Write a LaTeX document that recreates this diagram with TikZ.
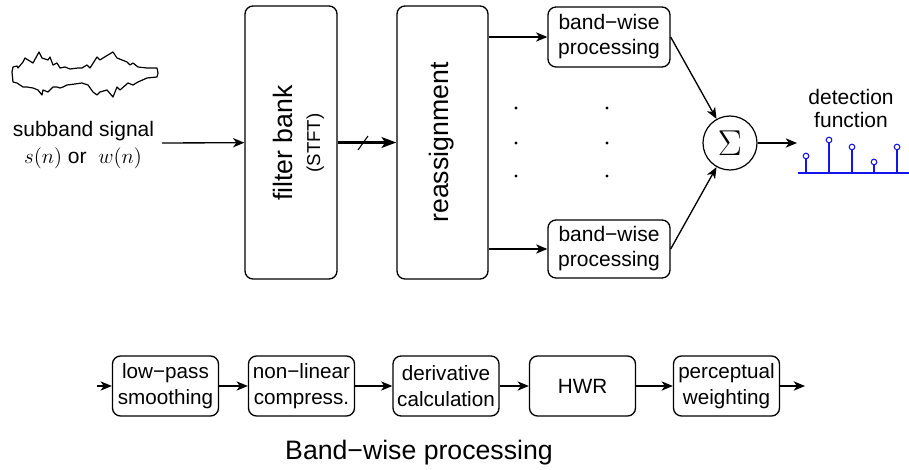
\RequirePackage{fix-cm}
\documentclass[tikz,border=0pt]{standalone}
\usepackage{fontspec}
\setmainfont{Liberation Sans}
\usetikzlibrary{arrows.meta}
\definecolor{stemblue}{RGB}{20,20,235}
\begin{document}
\begin{tikzpicture}[x=0.75pt,y=-0.75pt,
  every node/.style={font=\fontsize{15.75}{18.75}\selectfont, inner sep=0pt},
  bigbox/.style={draw, line width=1pt, rounded corners=6pt,
    minimum width=69pt, minimum height=204.75pt},
  bwbox/.style={draw, line width=1pt, rounded corners=6pt,
    minimum width=91.5pt, minimum height=45pt, align=center},
  stagebox/.style={draw, line width=1pt, rounded corners=6pt,
    minimum width=79.5pt, minimum height=45pt, align=center,
    font=\fontsize{15.5}{19.5}\selectfont},
  rottext/.style={rotate=90, anchor=base, font=\fontsize{20}{24}\selectfont},
  conn/.style={line width=1pt, -{Stealth[length=8.5pt,width=7pt,inset=2.5pt]}},
  stem/.style={stemblue, line width=1.4pt},
]
\useasboundingbox (0,0) rectangle (909,470);

% input waveform sketch
\draw[line width=0.9pt, line join=round]
  (12,72) -- (13,67) -- (17,66) -- (18,68) -- (23,62) -- (25,58) -- (28,60)
  -- (33,63) -- (39,52) -- (42,58) -- (48,60) -- (50,57) -- (53,65) -- (57,63)
  -- (60,68) -- (65,67) -- (70,69) -- (78,68) -- (82,68) -- (87,65) -- (90,68)
  -- (97,57) -- (100,60) -- (103,58) -- (113,52) -- (117,58) -- (122,60)
  -- (127,62) -- (130,65) -- (133,63) -- (138,67) -- (147,68) -- (157,68)
  -- (158,73) -- (157,77) -- (147,78) -- (138,82) -- (133,85) -- (128,83)
  -- (120,90) -- (117,87) -- (113,97) -- (107,90) -- (100,92) -- (97,95)
  -- (93,92) -- (88,85) -- (82,83) -- (75,84) -- (67,85) -- (63,87) -- (60,88)
  -- (57,87) -- (53,87) -- (48,92) -- (43,90) -- (42,95) -- (38,90) -- (33,88)
  -- (27,87) -- (23,87) -- (20,85) -- (17,83) -- (13,82) -- cycle;

% input label
\node[anchor=base] (sbl) at (83.5,137) {subband signal};
\node[anchor=base] (sbm) at (83,164) {$s(n)$ or\ \ $w(n)$};

% main blocks
\node[bigbox] (fb) at (291,142.5) {};
\node[rottext] (fbt) at (292,143) {filter bank};
\node[rottext, font=\fontsize{14}{16}\selectfont] (stft) at (320,143) {(STFT)};
\node[bigbox, minimum width=68.25pt] (ra) at (442.5,142.5) {};
\node[rottext] (rat) at (448,142.5) {reassignment};

\node[bwbox] (bw1) at (609,37) {band−wise\\processing};
\node[bwbox, minimum height=43.5pt] (bw2) at (609,249) {band−wise\\processing};

\node[circle, draw, line width=0.9pt, minimum size=40.5pt] (sum) at (730,143)
  {\fontsize{27}{30}\selectfont$\Sigma$};

% connectors
\coordinate (src) at (162,143);
\draw[conn] (src) -- (fb);
\draw[line width=2pt, -{Stealth[length=11pt,width=8pt,inset=2.5pt]}] (fb) -- (ra);
\draw[line width=0.8pt] (358,150) -- (368,136);
\draw[conn] (ra.east |- bw1) -- (bw1);
\draw[conn] (ra.east |- bw2) -- (bw2);
\draw[conn] (bw1.east) -- (sum);
\draw[conn] (bw2.east) -- (sum);
\coordinate (dfin) at (797,143);
\draw[conn] (sum) -- (dfin);

% ellipsis dots between the bands
\foreach \px in {516,607}
  \foreach \py in {108,143,176}
    \fill (\px,\py) circle[radius=1.3pt];

% detection function
\node[anchor=base] (dt1) at (851,105) {detection};
\node[anchor=base] (dt2) at (851,127.5) {function};
\draw[stem] (798,173) -- (909,173);
\foreach \sx/\sy in {806/156, 829/140, 852/147, 874/162, 897/147} {
  \draw[stem] (\sx,173) -- (\sx,\sy+2.7);
  \draw[stemblue, line width=0.8pt, fill=white] (\sx,\sy) circle[radius=2.1pt];
}

% band-wise processing chain
\node[stagebox] (s1) at (165.5,386) {low−pass\\smoothing};
\node[stagebox] (s2) at (301.5,386) {non−linear\\compress.};
\node[stagebox] (s3) at (446,386) {derivative\\calculation};
\node[stagebox] (s4) at (582.5,386) {HWR};
\node[stagebox] (s5) at (726.5,386) {perceptual\\weighting};
\coordinate (bin) at (97,386);
\coordinate (bout) at (805,386);
\draw[conn] (bin) -- (s1);
\draw[conn] (s1) -- (s2);
\draw[conn] (s2) -- (s3);
\draw[conn] (s3) -- (s4);
\draw[conn] (s4) -- (s5);
\draw[conn] (s5) -- (bout);

\node[anchor=base, font=\fontsize{20}{24}\selectfont] (title) at (419,459)
  {Band−wise processing};
\end{tikzpicture}
\end{document}
